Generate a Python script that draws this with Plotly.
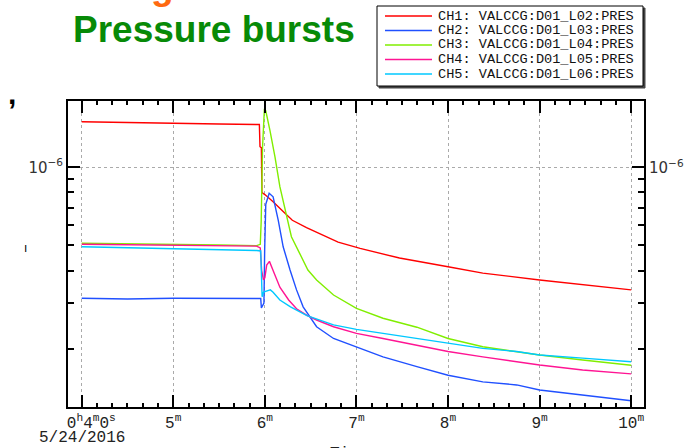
import plotly.graph_objects as go

# ---- data (time in minutes after 0h, pressure in units of 1e-6) ----
ch1_t = [4.0, 4.5, 5.02, 5.5, 5.94, 5.947, 5.962, 5.968, 6.0, 6.09, 6.2, 6.3, 6.455, 6.6, 6.8, 7.04, 7.47, 8.0, 8.38, 9.0, 9.47, 10.0]
ch1_p = [1.498, 1.485, 1.472, 1.468, 1.462, 1.20, 1.19, 0.80, 0.785, 0.737, 0.676, 0.625, 0.585, 0.553, 0.515, 0.487, 0.447, 0.414, 0.391, 0.368, 0.352, 0.337]

ch2_t = [4.0, 4.5, 5.0, 5.5, 5.9, 5.955, 5.962, 5.99, 5.998, 6.01, 6.047, 6.09, 6.146, 6.2, 6.275, 6.346, 6.418, 6.49, 6.565, 6.75, 7.0, 7.29, 7.66, 8.0, 8.38, 8.75, 9.0, 9.47, 10.0]
ch2_p = [0.313, 0.311, 0.313, 0.312, 0.313, 0.312, 0.287, 0.30, 0.48, 0.72, 0.794, 0.77, 0.626, 0.494, 0.402, 0.337, 0.29, 0.266, 0.243, 0.219, 0.2024, 0.186, 0.1705, 0.158, 0.149, 0.145, 0.1386, 0.1326, 0.126]

ch3_t = [4.0, 4.5, 5.0, 5.5, 5.91, 5.95, 5.96, 5.975, 5.995, 6.01, 6.055, 6.11, 6.164, 6.22, 6.29, 6.38, 6.47, 6.565, 6.75, 7.0, 7.29, 7.66, 8.0, 8.38, 8.75, 9.0, 9.47, 10.0]
ch3_p = [0.51, 0.508, 0.505, 0.502, 0.499, 0.505, 0.62, 1.2, 1.68, 1.65, 1.39, 1.10, 0.842, 0.685, 0.54, 0.466, 0.402, 0.368, 0.322, 0.286, 0.262, 0.242, 0.219, 0.2035, 0.195, 0.189, 0.181, 0.1726]

ch4_t = [4.0, 4.5, 5.0, 5.5, 5.91, 5.95, 5.965, 5.985, 6.0, 6.02, 6.05, 6.09, 6.164, 6.26, 6.346, 6.46, 6.565, 6.75, 7.0, 7.29, 7.66, 8.0, 8.38, 8.75, 9.0, 9.47, 10.0]
ch4_p = [0.505, 0.503, 0.50, 0.499, 0.497, 0.489, 0.40, 0.368, 0.375, 0.42, 0.434, 0.40, 0.345, 0.308, 0.285, 0.269, 0.258, 0.243, 0.229, 0.219, 0.2066, 0.195, 0.186, 0.178, 0.173, 0.1655, 0.16]

ch5_t = [4.0, 4.5, 5.0, 5.5, 5.91, 5.955, 5.962, 5.97, 5.985, 6.0, 6.06, 6.09, 6.164, 6.28, 6.46, 6.565, 6.75, 7.0, 7.29, 7.66, 8.0, 8.38, 8.75, 9.0, 9.47, 10.0]
ch5_p = [0.494, 0.49, 0.487, 0.483, 0.478, 0.476, 0.37, 0.317, 0.33, 0.332, 0.337, 0.33, 0.308, 0.29, 0.268, 0.26, 0.247, 0.2375, 0.229, 0.219, 0.21, 0.2006, 0.195, 0.189, 0.184, 0.178]

UNIT = 1e-6
names = ["CH1: VALCCG:D01_L02:PRES", "CH2: VALCCG:D01_L03:PRES", "CH3: VALCCG:D01_L04:PRES",
         "CH4: VALCCG:D01_L05:PRES", "CH5: VALCCG:D01_L06:PRES"]
colors = ["#ff0000", "#2050ff", "#80ee00", "#ff1493", "#00c8ff"]
series = [(ch1_t, ch1_p), (ch2_t, ch2_p), (ch3_t, ch3_p), (ch4_t, ch4_p), (ch5_t, ch5_p)]

x_tickvals = [4, 5, 6, 7, 8, 9, 10]
x_ticktext = ["\u00a0\u00a00<sup>h</sup>4<sup>m</sup>0<sup>s</sup>", "5<sup>m</sup>", "6<sup>m</sup>",
              "7<sup>m</sup>", "8<sup>m</sup>", "9<sup>m</sup>", "10<sup>m</sup>"]
y_minor_vals = [2e-7, 3e-7, 4e-7, 5e-7, 6e-7, 7e-7, 8e-7, 9e-7]
date_label = "5/24/2016"

W, H = 698, 448
L, R, T, B = 68, 644, 101, 407


def px(x):
    return (x - L) / (R - L)


def py(y):
    return (B - y) / (B - T)


fig = go.Figure()
for (t, p), name, c in zip(series, names, colors):
    fig.add_trace(go.Scatter(x=t, y=[v * UNIT for v in p], mode="lines", name=name,
                             line=dict(color=c, width=1.4), showlegend=False))

axis_common = dict(showline=True, linecolor="black", linewidth=2, mirror="allticks",
                   ticks="inside", tickcolor="black", tickwidth=2, ticklen=12,
                   showgrid=True, gridcolor="#aaaaaa", griddash="dot", gridwidth=1,
                   zeroline=False)

fig.update_layout(
    width=W, height=H,
    margin=dict(l=L, r=W - R, t=T, b=H - B),
    paper_bgcolor="white", plot_bgcolor="white",
    xaxis=dict(range=[3.8505, 10.140], tickmode="array", tickvals=x_tickvals, ticktext=x_ticktext,
               tickfont=dict(family="Liberation Mono", size=16, color="#222222"),
               minor=dict(dtick=1 / 6, tick0=4, ticks="inside", ticklen=4, tickcolor="black",
                          tickwidth=2, showgrid=False),
               **axis_common),
    yaxis=dict(type="log", range=[-6.9237, -5.7445], tickmode="array", tickvals=[1e-6],
               ticktext=["10<sup>\u22126</sup>"],
               tickfont=dict(family="DejaVu Sans", size=15, color="#333333"),
               minor=dict(tickmode="array", tickvals=y_minor_vals, ticks="inside", ticklen=6,
                          tickcolor="black", tickwidth=2, showgrid=False),
               **axis_common),
)

ann = []
# right-side y label
ann.append(dict(text="10<sup>\u22126</sup>", xref="paper", yref="y", x=1, y=-6, xanchor="left",
                yanchor="middle", xshift=3, showarrow=False,
                font=dict(family="DejaVu Sans", size=15, color="#333333")))
# date below the first tick
ann.append(dict(text=date_label, xref="x", yref="paper", x=4, y=py(438), xanchor="center",
                yanchor="middle", showarrow=False,
                font=dict(family="Liberation Mono", size=16, color="#222222")))
# x title (cut off at the bottom edge)
ann.append(dict(text="Time", xref="paper", yref="paper", x=px(349), y=py(443), xanchor="center",
                yanchor="top", showarrow=False,
                font=dict(family="Liberation Mono", size=16, color="#222222")))
# title
ann.append(dict(text="<b>Pressure bursts</b>", xref="paper", yref="paper", x=px(71), y=py(30),
                xanchor="left", yanchor="middle", showarrow=False,
                font=dict(family="Liberation Sans", size=37, color="#078a07")))
# orange fragment at top
ann.append(dict(text="<b>g</b>", xref="paper", yref="paper", x=px(149), y=py(9),
                xanchor="left", yanchor="bottom", showarrow=False,
                font=dict(family="Liberation Sans", size=37, color="#ff6a10")))
# stray fragments at the left
ann.append(dict(text="<b>,</b>", xref="paper", yref="paper", x=px(12), y=py(93),
                xanchor="center", yanchor="middle", showarrow=False,
                font=dict(family="Liberation Sans", size=30, color="black")))
ann.append(dict(text="ı", xref="paper", yref="paper", x=px(25), y=py(248),
                xanchor="center", yanchor="middle", showarrow=False,
                font=dict(family="Liberation Sans", size=12, color="black")))

shapes = []
# legend box with shadow
lx0, lx1, ly0, ly1 = 377, 643, 6, 86
shapes.append(dict(type="rect", xref="paper", yref="paper", x0=px(lx0 + 2), x1=px(lx1 + 2),
                   y0=py(ly0 + 2), y1=py(ly1 + 2), line=dict(color="#444444", width=1),
                   fillcolor="#444444", layer="above"))
shapes.append(dict(type="rect", xref="paper", yref="paper", x0=px(lx0), x1=px(lx1),
                   y0=py(ly0), y1=py(ly1), line=dict(color="black", width=1),
                   fillcolor="white", layer="above"))
rows = [16, 30.5, 45, 59.5, 74]
for yy, name, c in zip(rows, names, colors):
    shapes.append(dict(type="line", xref="paper", yref="paper", x0=px(385), x1=px(432),
                       y0=py(yy), y1=py(yy), line=dict(color=c, width=1.4), layer="above"))
    ann.append(dict(text=name, xref="paper", yref="paper", x=px(436), y=py(yy), xanchor="left",
                    yanchor="middle", showarrow=False,
                    font=dict(family="Liberation Mono", size=13.6, color="#111111")))

fig.update_layout(annotations=ann, shapes=shapes)
fig.write_html("out.html")
